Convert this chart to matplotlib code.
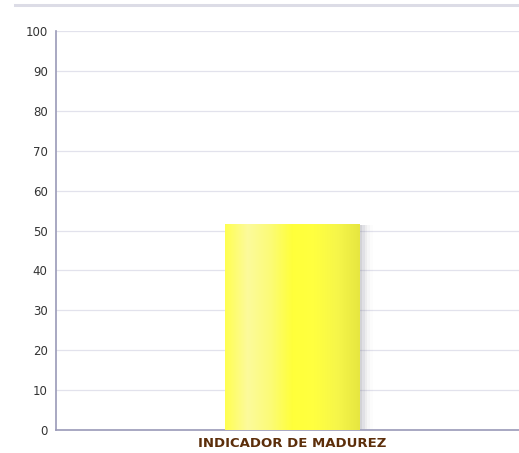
import numpy as np
import matplotlib
matplotlib.use("Agg")
import matplotlib.pyplot as plt
from matplotlib.colors import LinearSegmentedColormap
from matplotlib.lines import Line2D

categories = ["INDICADOR DE MADUREZ"]
values = [51.6]
yticks = [0, 10, 20, 30, 40, 50, 60, 70, 80, 90, 100]

fig = plt.figure(figsize=(5.19, 4.53), dpi=100)
ax = fig.add_axes([56 / 519, 23 / 453, 463 / 519, 399 / 453])

# thin band at the top of the chart
fig.add_artist(Line2D([15 / 519, 1.0], [448 / 453, 448 / 453],
                      color="#dcdce6", lw=2.2, transform=fig.transFigure))

x = np.arange(len(categories))
width = 0.29

# soft shadow to the right of the bar
for i, v in enumerate(values):
    for k, a in enumerate([0.14, 0.10, 0.07, 0.04, 0.02]):
        ax.bar(x[i] + 0.006 * (k + 1), v - 0.3, width=width, color="#7a7a8a",
               alpha=a, zorder=2, linewidth=0)

bars = ax.bar(x, values, width=width, color="#ffff44", zorder=3, linewidth=0)

cmap = LinearSegmentedColormap.from_list(
    "bar", ["#ffff50", "#fcfa9c", "#fbfb78", "#ffff3a", "#ffff40", "#f6f64a", "#e6e640"])
grad = np.linspace(0, 1, 256).reshape(1, -1)
for b in bars:
    im = ax.imshow(grad, cmap=cmap, aspect="auto", zorder=4,
                   extent=[b.get_x(), b.get_x() + b.get_width(), 0, b.get_height()])
    im.set_clip_path(b)

ax.set_xlim(-0.5097, 0.4903)
ax.set_ylim(0, 100)
ax.set_yticks(yticks)
ax.set_xticks(x)
ax.set_xticklabels(categories, fontsize=9.5, fontweight="bold", color="#5c2e0a")
ax.tick_params(axis="y", length=0, labelsize=8.5, labelcolor="#333333", pad=6)
ax.tick_params(axis="x", length=0, pad=5)
ax.grid(axis="y", color="#e2e2ec", lw=0.9, zorder=0)
ax.set_axisbelow(True)

for s in ["top", "right"]:
    ax.spines[s].set_visible(False)
for s in ["left", "bottom"]:
    ax.spines[s].set_color("#9a9ab8")
    ax.spines[s].set_linewidth(1.2)

fig.savefig("out.png", dpi=100)
